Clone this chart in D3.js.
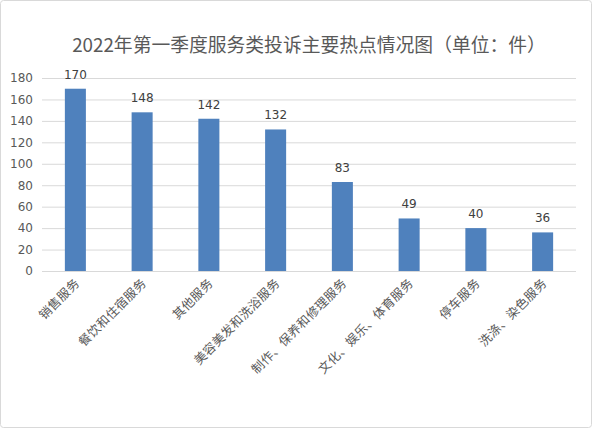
<!DOCTYPE html>
<html>
<head>
<meta charset="utf-8">
<script src="https://cdn.jsdelivr.net/npm/d3@7"></script>
<style>
  html, body { margin: 0; padding: 0; background: #fff; }
  svg { display: block; }
</style>
</head>
<body>
<div id="chart"></div>
<script>
// Chart data
const categories = ["销售服务", "餐饮和住宿服务", "其他服务", "美容美发和洗浴服务",
    "制作、保养和修理服务", "文化、娱乐、体育服务", "停车服务", "洗涤、染色服务"];
const complaints = [170, 148, 142, 132, 83, 49, 40, 36];
const yTicks = [0, 20, 40, 60, 80, 100, 120, 140, 160, 180];
const chartTitle = "2022年第一季度服务类投诉主要热点情况图（单位：件）";

function drawChart() {
    const W = 592, H = 428;
    const margin = { top: 78, right: 16, bottom: 157, left: 42 };
    const width = W - margin.left - margin.right;
    const height = H - margin.top - margin.bottom;

    const svg = d3.select("#chart").append("svg")
        .attr("width", W)
        .attr("height", H);

    // Outer border
    svg.append("rect")
        .attr("x", 0.5).attr("y", 0.5)
        .attr("width", W - 1).attr("height", H - 1)
        .attr("rx", 3)
        .attr("fill", "#fff")
        .attr("stroke", "#d9d9d9");

    svg.append("text")
        .attr("x", 309)
        .attr("y", 52)
        .attr("text-anchor", "middle")
        .attr("font-family", "'Noto Sans CJK SC', 'DejaVu Sans', sans-serif")
        .attr("font-size", "18.8px")
        .attr("fill", "#595959")
        .text(chartTitle);

    const g = svg.append("g")
        .attr("transform", `translate(${margin.left},${margin.top})`);

    const x = d3.scaleBand()
        .domain(categories)
        .range([0, width])
        .paddingInner(0.685)
        .paddingOuter(0.3425);

    const y = d3.scaleLinear()
        .domain([0, 180])
        .range([height, 0]);

    // Grid lines
    g.append("g")
        .attr("class", "grid")
        .call(d3.axisLeft(y).tickValues(yTicks).tickSize(-width).tickFormat(""))
        .call(s => s.select(".domain").remove())
        .call(s => s.selectAll("line").attr("stroke", "#d9d9d9").attr("stroke-width", 1));

    // Y axis labels
    g.append("g")
        .call(d3.axisLeft(y).tickValues(yTicks).tickSize(0).tickPadding(9))
        .call(s => s.select(".domain").remove())
        .call(s => s.selectAll("text")
            .attr("font-family", "'DejaVu Sans', sans-serif")
            .attr("font-size", "12px")
            .attr("fill", "#595959"));

    // Bars
    g.selectAll(".bar")
        .data(complaints)
        .join("rect")
        .attr("class", "bar")
        .attr("x", (d, i) => x(categories[i]))
        .attr("y", d => y(d))
        .attr("width", x.bandwidth())
        .attr("height", d => height - y(d))
        .attr("fill", "#4f81bd");

    // Value labels
    g.selectAll(".val")
        .data(complaints)
        .join("text")
        .attr("class", "val")
        .attr("x", (d, i) => x(categories[i]) + x.bandwidth() / 2)
        .attr("y", d => y(d) - 10)
        .attr("text-anchor", "middle")
        .attr("font-family", "'DejaVu Sans', sans-serif")
        .attr("font-size", "12px")
        .attr("fill", "#404040")
        .text(d => d);

    // Category labels, rotated
    g.selectAll(".cat")
        .data(categories)
        .join("text")
        .attr("class", "cat")
        .attr("transform", d => `translate(${x(d) + x.bandwidth() / 2 + 5},${height + 13}) rotate(-45)`)
        .attr("text-anchor", "end")
        .attr("font-family", "'Noto Sans CJK SC', sans-serif")
        .attr("font-size", "12.5px")
        .attr("letter-spacing", "0.3px")
        .attr("fill", "#595959")
        .text(d => d);
}

drawChart();
</script>
</body>
</html>
